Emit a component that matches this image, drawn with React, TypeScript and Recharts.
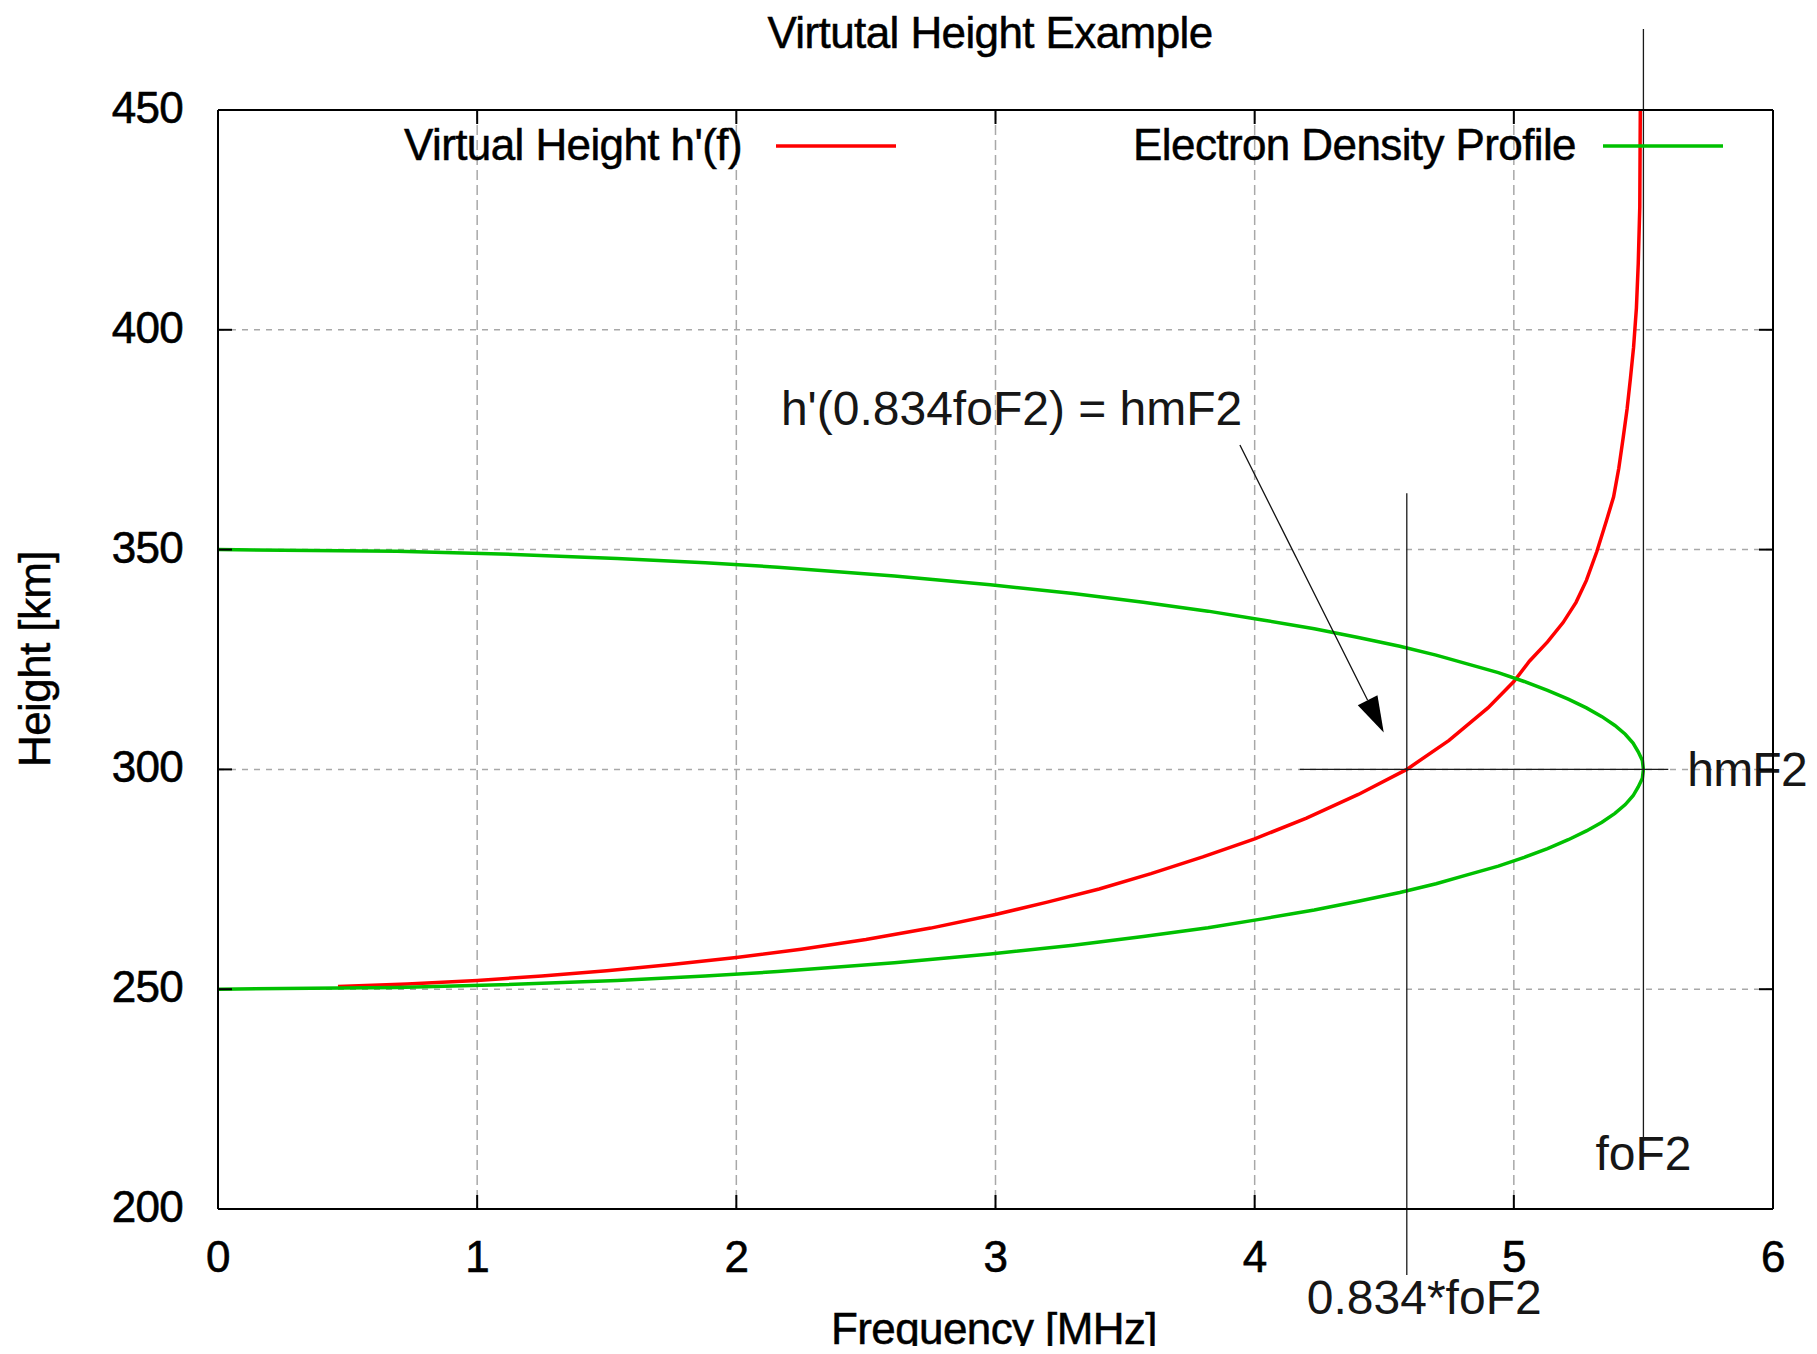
import React from 'react';
import { ComposedChart, Line, XAxis, YAxis, CartesianGrid, ReferenceLine } from 'recharts';

const FONT = '"Liberation Sans", Arial, Helvetica, sans-serif';

// ---- ticks ----
const xTicks = [0, 1, 2, 3, 4, 5, 6];
const yTicks = [200, 250, 300, 350, 400, 450];

// ---- Virtual height h'(f) (red) ----
const virtualFreq = [0.463, 0.73, 1.0, 1.25, 1.5, 1.75, 2.0, 2.25, 2.5, 2.75, 3.0, 3.2, 3.4, 3.6, 3.8, 4.0, 4.2, 4.4, 4.587, 4.75, 4.9, 5.0, 5.06, 5.13, 5.19, 5.24, 5.28, 5.32, 5.357, 5.385, 5.405, 5.422, 5.437, 5.45, 5.462, 5.473, 5.48, 5.486, 5.488];
const virtualHeight = [250.6, 251.2, 252.0, 253.0, 254.2, 255.6, 257.2, 259.1, 261.3, 263.9, 267.0, 269.8, 272.8, 276.3, 280.1, 284.2, 288.9, 294.3, 300.0, 306.6, 314.0, 320.0, 324.6, 329.0, 333.4, 338.0, 343.0, 349.5, 356.5, 362.0, 368.5, 375.5, 382.0, 389.0, 396.0, 405.0, 415.0, 428.0, 450.0];

// ---- Electron density profile (green) ----
const densityFreq = [0, 0.69, 1.09, 1.54, 1.88, 2.16, 2.61, 2.98, 3.3, 3.57, 3.82, 4.03, 4.23, 4.4, 4.56, 4.7, 4.82, 4.94, 5.04, 5.13, 5.21, 5.28, 5.34, 5.39, 5.43, 5.46, 5.48, 5.496, 5.5,
  5.496, 5.48, 5.46, 5.43, 5.39, 5.34, 5.28, 5.21, 5.13, 5.04, 4.94, 4.82, 4.7, 4.56, 4.4, 4.23, 4.03, 3.82, 3.57, 3.3, 2.98, 2.61, 2.16, 1.88, 1.54, 1.09, 0.69, 0];
const densityHeight = [350, 349.6, 349, 348, 347, 346, 344, 342, 340, 338, 336, 334, 332, 330, 328, 326, 324, 322, 320, 318, 316, 314, 312, 310, 308, 306, 304, 302, 300,
  298, 296, 294, 292, 290, 288, 286, 284, 282, 280, 278, 276, 274, 272, 270, 268, 266, 264, 262, 260, 258, 256, 254, 253, 252, 251, 250.4, 250];

// ---- annotation anchors (data units) ----
const foF2 = 5.5;
const hmF2 = 300;
const fHm = 4.587; // 0.834 * foF2
const foF2Line = [{ x: foF2, y: 468.4 }, { x: foF2, y: 215.5 }];
const hmF2Line = [{ x: 4.174, y: hmF2 }, { x: 5.596, y: hmF2 }];
const fHmLine = [{ x: fHm, y: 362.8 }, { x: fHm, y: 185 }];
const arrowLine = [{ x: 3.943, y: 373.8 }, { x: 4.498, y: 308.4 }];

const virtualData = virtualFreq.map((f, i) => ({ f, h: virtualHeight[i] }));
const densityData = densityFreq.map((f, i) => ({ f, h: densityHeight[i] }));

const TICK_LEN = 14;
const tickText = { fontFamily: FONT, fontSize: 44, fill: '#000', stroke: '#000', strokeWidth: 0.6, letterSpacing: -0.7 } as const;
const annText = { fontFamily: FONT, fontSize: 48, fill: '#161616' } as const;

const BottomTick = (p: any) => (
  <g>
    <line x1={p.x} y1={p.y} x2={p.x} y2={p.y - TICK_LEN} stroke="#000" strokeWidth={2} />
    <text x={p.x} y={p.y + 63} textAnchor="middle" style={tickText}>{p.payload.value}</text>
  </g>
);
const TopTick = (p: any) => (
  <line x1={p.x} y1={p.y} x2={p.x} y2={p.y + TICK_LEN} stroke="#000" strokeWidth={2} />
);
const LeftTick = (p: any) => (
  <g>
    <line x1={p.x} y1={p.y} x2={p.x + TICK_LEN} y2={p.y} stroke="#000" strokeWidth={2} />
    <text x={p.x - 35} y={p.y + 13} textAnchor="end" style={tickText}>{p.payload.value}</text>
  </g>
);
const RightTick = (p: any) => (
  <line x1={p.x} y1={p.y} x2={p.x - TICK_LEN} y2={p.y} stroke="#000" strokeWidth={2} />
);

const thin = { stroke: '#1a1a1a', strokeWidth: 1.3 };

const FoF2Shape = (p: any) => (
  <g>
    <line x1={p.x1} y1={p.y1} x2={p.x2} y2={p.y2} {...thin} />
    <text x={p.x2} y={p.y2 + 29} textAnchor="middle" style={annText}>foF2</text>
  </g>
);
const HmF2Shape = (p: any) => (
  <g>
    <line x1={p.x1} y1={p.y1} x2={p.x2} y2={p.y2} {...thin} />
    <text x={p.x2 + 19} y={p.y2 + 17} style={{ ...annText, letterSpacing: -0.8 }}>hmF2</text>
  </g>
);
const FHmShape = (p: any) => (
  <g>
    <line x1={p.x1} y1={p.y1} x2={p.x2} y2={p.y2} {...thin} />
    <text x={p.x2 - 100} y={p.y2 + 39} style={annText}>0.834*foF2</text>
  </g>
);
const ArrowShape = (p: any) => {
  const { x1, y1, x2, y2 } = p;
  const dx = x2 - x1;
  const dy = y2 - y1;
  const len = Math.hypot(dx, dy) || 1;
  const ux = dx / len;
  const uy = dy / len;
  const hl = 36;
  const hw = 11;
  const bx = x2 - ux * hl;
  const by = y2 - uy * hl;
  const pts = `${x2},${y2} ${bx - uy * hw},${by + ux * hw} ${bx + uy * hw},${by - ux * hw}`;
  return (
    <g>
      <line x1={x1} y1={y1} x2={bx} y2={by} stroke="#111" strokeWidth={1.3} />
      <polygon points={pts} fill="#000" />
      <text x={x1 - 459} y={y1 - 20} style={annText}>h'(0.834foF2) = hmF2</text>
    </g>
  );
};

const W = 1801;
const H = 1338;
const lblText = { fontFamily: FONT, fontSize: 44, fill: '#000', stroke: '#000', strokeWidth: 0.5, letterSpacing: -0.6 } as const;

export default function App() {
  return (
    <div style={{ position: 'relative', width: W, height: H }}>
      <ComposedChart width={W} height={H} margin={{ top: 92, right: 26, bottom: 107, left: 150 }}>
        <CartesianGrid horizontal={false} stroke="#a8a8a8" strokeWidth={1.5} strokeDasharray="10 5" />
        <CartesianGrid vertical={false} stroke="#a8a8a8" strokeWidth={1.5} strokeDasharray="6 6" />
        <XAxis dataKey="f" type="number" domain={[0, 6]} ticks={xTicks} orientation="bottom" height={30}
          tickSize={0} tickMargin={0} tickLine={false} axisLine={{ stroke: '#000', strokeWidth: 2 }}
          tick={(p: any) => <BottomTick {...p} />} allowDataOverflow interval={0} />
        <XAxis xAxisId="top" dataKey="f" type="number" domain={[0, 6]} ticks={xTicks} orientation="top" height={10}
          tickSize={0} tickMargin={0} tickLine={false} axisLine={{ stroke: '#000', strokeWidth: 2 }}
          tick={(p: any) => <TopTick {...p} />} allowDataOverflow interval={0} />
        <YAxis type="number" domain={[200, 450]} ticks={yTicks} orientation="left" width={60}
          tickSize={0} tickMargin={0} tickLine={false} axisLine={{ stroke: '#000', strokeWidth: 2 }}
          tick={(p: any) => <LeftTick {...p} />} allowDataOverflow interval={0} />
        <YAxis yAxisId="right" type="number" domain={[200, 450]} ticks={yTicks} orientation="right" width={10}
          tickSize={0} tickMargin={0} tickLine={false} axisLine={{ stroke: '#000', strokeWidth: 2 }}
          tick={(p: any) => <RightTick {...p} />} allowDataOverflow interval={0} />
        <Line data={virtualData} dataKey="h" type="linear" stroke="#ff0000" strokeWidth={3.5} dot={false}
          activeDot={false} isAnimationActive={false} />
        <Line data={densityData} dataKey="h" type="linear" stroke="#00c000" strokeWidth={3.5} dot={false}
          activeDot={false} isAnimationActive={false} />
        <ReferenceLine segment={foF2Line} ifOverflow="visible" shape={(p: any) => <FoF2Shape {...p} />} />
        <ReferenceLine segment={hmF2Line} ifOverflow="visible" shape={(p: any) => <HmF2Shape {...p} />} />
        <ReferenceLine segment={fHmLine} ifOverflow="visible" shape={(p: any) => <FHmShape {...p} />} />
        <ReferenceLine segment={arrowLine} ifOverflow="visible" shape={(p: any) => <ArrowShape {...p} />} />
      </ComposedChart>
      <svg width={W} height={H} style={{ position: 'absolute', left: 0, top: 0, overflow: 'visible', pointerEvents: 'none' }}>
        <text x={982} y={40} textAnchor="middle" style={lblText}>Virtutal Height Example</text>
        <text x={734} y={152} textAnchor="end" style={lblText}>Virtual Height h'(f)</text>
        <line x1={768} y1={138} x2={888} y2={138} stroke="#ff0000" strokeWidth={3.5} />
        <text x={1568} y={152} textAnchor="end" style={lblText}>Electron Density Profile</text>
        <line x1={1595} y1={138} x2={1715} y2={138} stroke="#00c000" strokeWidth={3.5} />
        <text x={42} y={651} textAnchor="middle" transform="rotate(-90 42 651)" style={lblText}>Height [km]</text>
        <text x={986} y={1336} textAnchor="middle" style={lblText}>Frequency [MHz]</text>
      </svg>
    </div>
  );
}
